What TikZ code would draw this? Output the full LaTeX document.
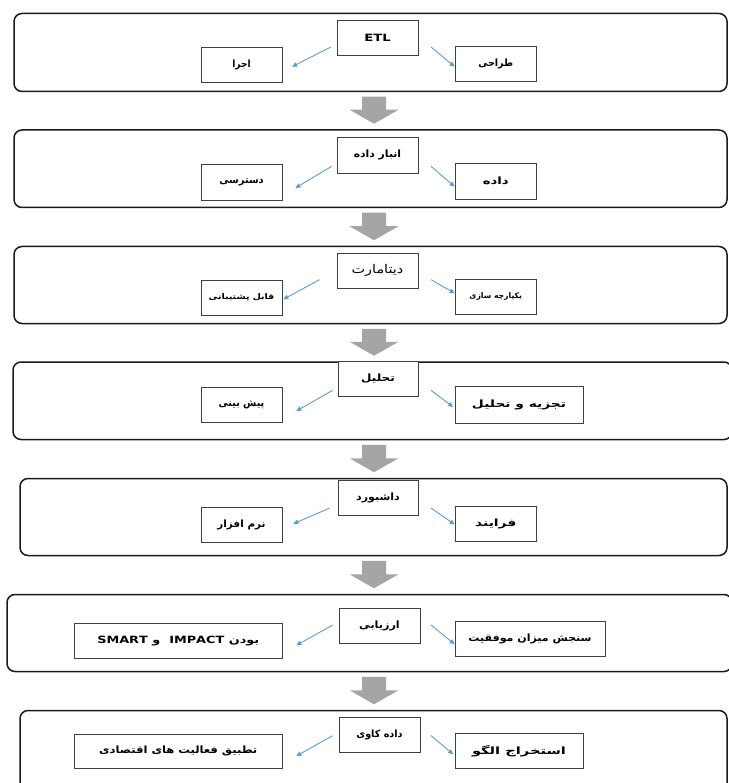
\documentclass[tikz,border=0pt]{standalone}
\usepackage{fontspec}
\setmainfont[FakeStretch=1.2]{DejaVu Sans}
\newfontfamily\arabicfont[Script=Arabic,FakeStretch=1.2]{DejaVu Sans}
\TeXXeTstate=1
\usetikzlibrary{arrows.meta,calc}
\definecolor{arrowblue}{HTML}{5B9BD5}
\definecolor{arrowgray}{HTML}{A5A5A5}
\definecolor{edgecol}{HTML}{1A1A1A}
\newcommand\fx[2]{\scalebox{#1}[1]{\arabicfont #2}}
\newcommand\grarrow[2]{%
  \path let \p1=([yshift=-4.5pt]#1.south -| ax), \p2=([yshift=5.5pt]#2.north -| ax) in
    [fill=arrowgray] (\x1-12pt,\y1) -- (\x1+12pt,\y1) -- (\x1+12pt,\y2+14pt)
    -- (\x1+24.5pt,\y2+14pt) -- (\x1,\y2) -- (\x1-24.5pt,\y2+14pt)
    -- (\x1-12pt,\y2+14pt) -- cycle;}
\tikzset{
  panel/.style={draw=edgecol, line width=1.5pt, rounded corners=8pt, inner sep=0pt},
  box/.style={draw=black!75, line width=0.7pt, fill=white, inner sep=0pt,
    font=\bfseries\fontsize{10}{12}\selectfont},
  smallbox/.style={box, font=\bfseries\fontsize{7.8}{9}\selectfont},
  barrow/.style={draw=arrowblue, line width=0.9pt, -{Triangle[length=5pt,width=4.5pt]}}
}
\begin{document}
\begin{tikzpicture}[x=1pt,y=-1pt]
\useasboundingbox (0,0) rectangle (728,783);
\coordinate (ax) at (374,0);
% panels
\node[panel, minimum width=713pt, minimum height=78pt]   (P1) at (370.5,52.5) {};
\node[panel, minimum width=713pt, minimum height=77.5pt] (P2) at (370.5,168.75) {};
\node[panel, minimum width=713pt, minimum height=77pt]   (P3) at (370.5,285) {};
\node[panel, minimum width=719pt, minimum height=77.5pt] (P4) at (372.5,400.75) {};
\node[panel, minimum width=707pt, minimum height=77pt]   (P5) at (373.5,517) {};
\node[panel, minimum width=725pt, minimum height=77pt]   (P6) at (369.5,633) {};
\node[panel, minimum width=707pt, minimum height=89.5pt] (P7) at (373.5,755.25) {};
% gray arrows
\grarrow{P1}{P2}
\grarrow{P2}{P3}
\grarrow{P3}{P4}
\grarrow{P4}{P5}
\grarrow{P5}{P6}
\grarrow{P6}{P7}
% panel 1
\node[box, minimum width=81pt, minimum height=35pt] (T1) at (377.5,38) {\scalebox{1.1}[1]{ETL}};
\node[box, minimum width=81pt, minimum height=35pt] (L1) at (241.5,65) {\fx{0.75}{\beginR اجرا\endR}};
\node[box, minimum width=81.5pt, minimum height=35pt] (R1) at (495.75,64) {\fx{0.8}{\beginR طراحی\endR}};
% panel 2
\node[box, minimum width=81pt, minimum height=36pt] (T2) at (377.5,155) {\fx{0.9}{\beginR انبار داده\endR}};
\node[box, minimum width=81pt, minimum height=36pt] (L2) at (241.5,182) {\fx{0.82}{\beginR دسترسی\endR}};
\node[box, minimum width=81.5pt, minimum height=36pt] (R2) at (495.75,181) {\fx{1.1}{\beginR داده\endR}};
% panel 3
\node[box, minimum width=81pt, minimum height=35.5pt, font=\mdseries\fontsize{12}{14}\selectfont] (T3) at (377.5,270.75) {\fx{1}{\beginR دیتامارت\endR}};
\node[smallbox, minimum width=81pt, minimum height=35pt] (L3) at (241.5,297.5) {\fx{1}{\beginR قابل پشتیبانی\endR}};
\node[smallbox, minimum width=81.5pt, minimum height=35pt] (R3) at (495.75,296.5) {\fx{0.82}{\beginR یکپارچه سازی\endR}};
% panel 4
\node[box, minimum width=80pt, minimum height=35.5pt] (T4) at (378,378.75) {\fx{1}{\beginR تحلیل\endR}};
\node[box, minimum width=81pt, minimum height=35pt] (L4) at (241.5,405) {\fx{0.8}{\beginR پیش بینی\endR}};
\node[box, minimum width=128pt, minimum height=37pt] (R4) at (519,404.5) {\fx{1.15}{\beginR تجزیه و تحلیل\endR}};
% panel 5
\node[box, minimum width=80pt, minimum height=35pt] (T5) at (378,497.5) {\fx{0.92}{\beginR داشبورد\endR}};
\node[box, minimum width=81pt, minimum height=34.5pt] (L5) at (241.5,524.75) {\fx{0.87}{\beginR نرم افزار\endR}};
\node[box, minimum width=81.5pt, minimum height=35pt] (R5) at (495.75,523.5) {\fx{1.15}{\beginR فرایند\endR}};
% panel 6
\node[box, minimum width=81pt, minimum height=35pt] (T6) at (379.5,626) {\fx{0.93}{\beginR ارزیابی\endR}};
\node[box, minimum width=208.5pt, minimum height=35pt] (L6) at (178.25,641) {\fx{1.07}{SMART \beginR و\endR\ \ IMPACT \beginR بودن\endR}};
\node[box, minimum width=150pt, minimum height=35.5pt] (R6) at (530,638.75) {\fx{0.92}{\beginR سنجش میزان موفقیت\endR}};
% panel 7
\node[box, minimum width=81pt, minimum height=35pt] (T7) at (379.5,735) {\fx{0.8}{\beginR داده کاوی\endR}};
\node[box, minimum width=208.5pt, minimum height=34.5pt] (L7) at (178.25,751.25) {\fx{0.96}{\beginR تطبیق فعالیت های اقتصادی\endR}};
\node[box, minimum width=128pt, minimum height=35.5pt] (R7) at (519,750.75) {\fx{1.22}{\beginR استخراج الگو\endR}};
% blue arrows
\draw[barrow] ([xshift=-6pt,yshift=8.8pt]T1.south west) -- ([xshift=9.7pt,yshift=-1.7pt]L1.east);
\draw[barrow] ([xshift=12.7pt,yshift=8.8pt]T1.south east) -- ([yshift=-2.7pt]R1.west);
\draw[barrow] ([xshift=-5pt,yshift=7pt]T2.south west) -- ([xshift=13pt,yshift=-6pt]L2.east);
\draw[barrow] ([xshift=12.7pt,yshift=7pt]T2.south east) -- ([yshift=-5.7pt]R2.west);
\draw[barrow] ([xshift=-17pt,yshift=9.2pt]T3.south west) -- ([xshift=1pt,yshift=-1.8pt]L3.east);
\draw[barrow] ([xshift=12.7pt,yshift=9.2pt]T3.south east) -- ([yshift=3.2pt]R3.west);
\draw[barrow] ([xshift=-5pt,yshift=6.5pt]T4.south west) -- ([xshift=14pt,yshift=-6pt]L4.east);
\draw[barrow] ([xshift=12.7pt,yshift=6.5pt]T4.south east) -- ([xshift=-1.5pt,yshift=-2.5pt]R4.west);
\draw[barrow] ([xshift=-8pt,yshift=7.3pt]T5.south west) -- ([xshift=11pt,yshift=1pt]L5.east);
\draw[barrow] ([xshift=12.7pt,yshift=7.3pt]T5.south east) -- ([yshift=-1pt]R5.west);
\draw[barrow] ([xshift=-6pt,yshift=18.8pt]T6.south west) -- ([xshift=13.5pt,yshift=-4.3pt]L6.east);
\draw[barrow] ([xshift=10.7pt,yshift=18.8pt]T6.south east) -- ([yshift=-5.5pt]R6.west);
\draw[barrow] ([xshift=-6pt,yshift=17.2pt]T7.south west) -- ([xshift=13.5pt,yshift=-4.75pt]L7.east);
\draw[barrow] ([xshift=10.7pt,yshift=17.2pt]T7.south east) -- ([xshift=-1.5pt,yshift=-3.5pt]R7.west);
\end{tikzpicture}
\end{document}
